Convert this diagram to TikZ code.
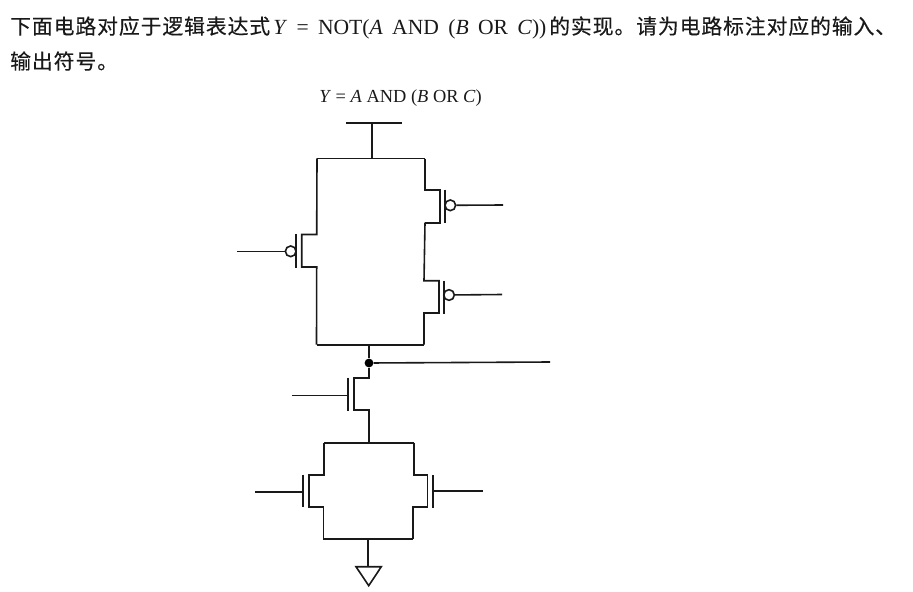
\documentclass[tikz,border=0pt]{standalone}
\usepackage{fontspec}
\setmainfont{Liberation Serif}
\newfontfamily\cjk[LetterSpace=4.5,FakeBold=0.35]{Noto Sans CJK SC}
\begin{document}
\begin{tikzpicture}[x=0.75pt,y=-0.75pt,
  wire/.style={draw=black!90,line width=1.2pt,line join=miter},
  gatebar/.style={draw=black!90,line width=1.3pt},
  bubble/.style={circle,draw=black!90,line width=1.2pt,fill=white,inner sep=0pt,minimum size=8pt},
  dotnode/.style={circle,fill=black,inner sep=0pt,minimum size=6.6pt},
  cjktext/.style={anchor=base west,inner sep=0pt,font=\cjk\fontsize{15.6}{15.6}\selectfont,text=black!90},
  latintext/.style={anchor=base west,inner sep=0pt,font=\fontsize{16.2}{16.2}\selectfont,text=black!90},
  captext/.style={anchor=base west,inner sep=0pt,font=\fontsize{13.8}{13.8}\selectfont,text=black!90}]
\useasboundingbox (0,0) rectangle (913,592);
% text
\node[cjktext] (t1) at (10,34) {下面电路对应于逻辑表达式};
\node[latintext] (t2) at (273,35) {\spaceskip=7pt \textit{Y} = NOT(\textit{A} AND (\textit{B} OR \textit{C}))};
\node[cjktext] (t3) at (549,34) {的实现。请为电路标注对应的输入、};
\node[cjktext] (t4) at (10,69) {输出符号。};
\node[captext] (cap) at (319,103) {\textit{Y} = \textit{A} AND (\textit{B} OR \textit{C})};
% supply
\coordinate (vl) at (346,123);
\coordinate (vr) at (402,123);
\coordinate (vm) at (372,123);
\coordinate (tm) at (372,158.5);
\coordinate (tl) at (317,158.5);
\coordinate (tr) at (425,158.5);
\coordinate (ml) at (316.5,344.7);
\coordinate (mr) at (424,344.7);
\coordinate (mm) at (369,344.7);
\draw[wire] (vl) -- (vr);
\draw[wire] (vm) -- (tm);
\draw[wire] (tl) -- (tr);
\draw[wire] (ml) -- (mr);
% left PMOS
\coordinate (p1a) at (316.7,234.5);
\coordinate (p1b) at (301.7,234.5);
\coordinate (p1c) at (301.7,267);
\coordinate (p1d) at (316.7,267);
\coordinate (g1t) at (296,234);
\coordinate (g1b) at (296,267.5);
\coordinate (in1) at (237,251.3);
\node[bubble] (b1) at (290.7,251.3) {};
\draw[wire] (tl) -- (p1a) -- (p1b) -- (p1c) -- (p1d) -- (ml);
\draw[gatebar] (g1t) -- (g1b);
\draw[wire] (in1) -- (b1);
% right upper PMOS
\coordinate (p2a) at (425,190);
\coordinate (p2b) at (440,190);
\coordinate (p2c) at (440,222.7);
\coordinate (p2d) at (425,222.7);
\coordinate (g2t) at (445,189.5);
\coordinate (g2b) at (445,223.2);
\coordinate (in2) at (503,205);
\node[bubble] (b2) at (450.3,205.3) {};
\draw[wire] (tr) -- (p2a) -- (p2b) -- (p2c) -- (p2d);
\draw[gatebar] (g2t) -- (g2b);
\draw[wire] (b2) -- (in2);
% right lower PMOS
\coordinate (p3a) at (424,280.7);
\coordinate (p3b) at (439,280.7);
\coordinate (p3c) at (439,313);
\coordinate (p3d) at (424,313);
\coordinate (g3t) at (444,280.5);
\coordinate (g3b) at (444,313.5);
\coordinate (in3) at (502,294.5);
\node[bubble] (b3) at (449,295) {};
\draw[wire] (p2d) -- (p3a) -- (p3b) -- (p3c) -- (p3d) -- (mr);
\draw[gatebar] (g3t) -- (g3b);
\draw[wire] (b3) -- (in3);
% output node
\node[dotnode] (out) at (369,363) {};
\coordinate (outr) at (550,362);
\draw[wire] (mm) -- (out);
\draw[wire] (out) -- (outr);
% series NMOS
\coordinate (n1a) at (369,377.7);
\coordinate (n1b) at (354,377.7);
\coordinate (n1c) at (354,410);
\coordinate (n1d) at (368.7,410);
\coordinate (r2t) at (368.7,442.7);
\coordinate (g4t) at (348.3,377.5);
\coordinate (g4b) at (348.3,410.5);
\coordinate (in4) at (292,395.3);
\coordinate (in4e) at (348.3,395.3);
\draw[wire] (out) -- (n1a) -- (n1b) -- (n1c) -- (n1d) -- (r2t);
\draw[gatebar] (g4t) -- (g4b);
\draw[wire] (in4) -- (in4e);
% parallel NMOS
\coordinate (r2l) at (324,442.7);
\coordinate (r2r) at (413.7,442.7);
\coordinate (r3l) at (323.3,539);
\coordinate (r3r) at (413,539);
\coordinate (r3m) at (368,539);
\draw[wire] (r2l) -- (r2r);
\draw[wire] (r3l) -- (r3r);
\coordinate (n2a) at (324,475);
\coordinate (n2b) at (308.7,475);
\coordinate (n2c) at (308.7,506.7);
\coordinate (n2d) at (323.3,506.7);
\coordinate (g5t) at (303.3,474.5);
\coordinate (g5b) at (303.3,507);
\coordinate (in5) at (255,492.2);
\coordinate (in5e) at (303.3,492.2);
\draw[wire] (r2l) -- (n2a) -- (n2b) -- (n2c) -- (n2d) -- (r3l);
\draw[gatebar] (g5t) -- (g5b);
\draw[wire] (in5) -- (in5e);
\coordinate (n3a) at (413.7,475);
\coordinate (n3b) at (427.3,475);
\coordinate (n3c) at (427.3,507);
\coordinate (n3d) at (413,507);
\coordinate (g6t) at (433.3,475);
\coordinate (g6b) at (433.3,507.5);
\coordinate (in6) at (483,491);
\coordinate (in6e) at (433.3,491);
\draw[wire] (r2r) -- (n3a) -- (n3b) -- (n3c) -- (n3d) -- (r3r);
\draw[gatebar] (g6t) -- (g6b);
\draw[wire] (in6e) -- (in6);
% ground
\coordinate (gt) at (368,566.7);
\coordinate (gl) at (356,566.7);
\coordinate (gr) at (381.3,566.7);
\coordinate (ga) at (368.7,585.7);
\draw[wire] (r3m) -- (gt);
\draw[wire] (gl) -- (gr) -- (ga) -- cycle;
\end{tikzpicture}
\end{document}
